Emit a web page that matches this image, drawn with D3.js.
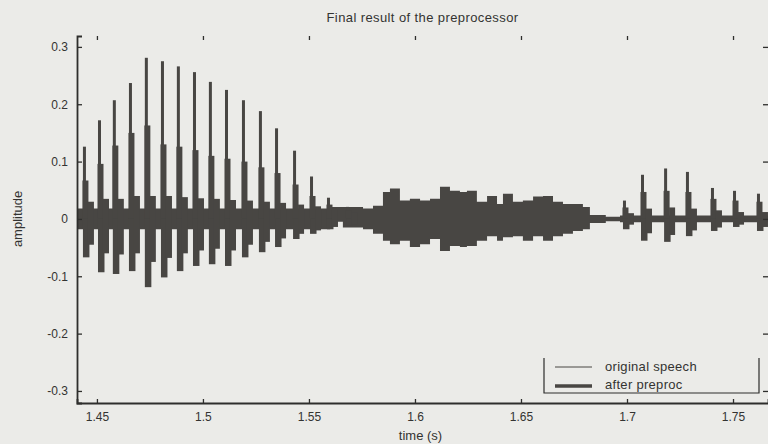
<!DOCTYPE html>
<html>
<head>
<meta charset="utf-8">
<script src="https://cdn.jsdelivr.net/npm/d3@7"></script>
<style>
  body { margin: 0; background: #ebebe8; }
  svg { display: block; font-family: "Liberation Sans", Arial, sans-serif; }
</style>
</head>
<body>
<div id="chart"></div>
<script>
// --- Data ---
const xTicks = [1.45, 1.5, 1.55, 1.6, 1.65, 1.7, 1.75];
const yTicks = [0.3, 0.2, 0.1, 0, -0.1, -0.2, -0.3];

// glottal pulses (time of spike, spike top, secondary block top, negative bottom)
const pulseTime = [1.4434, 1.4505, 1.4575, 1.4651, 1.4726, 1.4802, 1.4877, 1.4953, 1.5028, 1.5104, 1.5184, 1.5264,
  1.5340, 1.5425, 1.5505, 1.5585, 1.5675, 1.6981, 1.7066, 1.7175, 1.7278, 1.7396, 1.7500, 1.7613];
const pulseMax = [0.126, 0.172, 0.207, 0.237, 0.281, 0.275, 0.266, 0.256, 0.239, 0.225, 0.207, 0.188,
  0.158, 0.119, 0.074, 0.037, 0.021, 0.032, 0.077, 0.088, 0.082, 0.054, 0.049, 0.044];
const pulseMid = [0.067, 0.096, 0.128, 0.15, 0.163, 0.13, 0.126, 0.12, 0.11, 0.105, 0.1, 0.09,
  0.08, 0.06, 0.04, 0.025, 0.015, 0.02, 0.047, 0.049, 0.047, 0.035, 0.032, 0.030];
const pulseMin = [-0.067, -0.093, -0.096, -0.091, -0.119, -0.102, -0.091, -0.082, -0.079, -0.082, -0.067, -0.058,
  -0.049, -0.035, -0.026, -0.018, -0.012, -0.018, -0.038, -0.040, -0.030, -0.021, -0.014, -0.021];
// smaller ringing after each pulse (top / bottom)
const ringMax = [0.030, 0.035, 0.035, 0.040, 0.040, 0.040, 0.038, 0.036, 0.035, 0.033, 0.032, 0.030,
  0.028, 0.025, 0.022, 0.018, 0.012, 0.010, 0.018, 0.020, 0.018, 0.015, 0.012, 0.012];
const ringMin = [-0.045, -0.060, -0.062, -0.060, -0.075, -0.068, -0.060, -0.055, -0.052, -0.055, -0.045, -0.040,
  -0.034, -0.026, -0.020, -0.014, -0.010, -0.010, -0.025, -0.028, -0.020, -0.015, -0.010, -0.014];

// background envelope of the signal (upper / lower)
const envTime = [1.4406, 1.5550, 1.5600, 1.5660, 1.5755, 1.5802, 1.5849, 1.5882, 1.5929, 1.5976, 1.6024, 1.6071,
  1.6118, 1.6165, 1.6212, 1.6245, 1.6292, 1.6340, 1.6387, 1.6415, 1.6462, 1.6509, 1.6557, 1.6604,
  1.6651, 1.6698, 1.6745, 1.6792, 1.6825, 1.6900, 1.6967, 1.7665];
const envHigh = [0.018, 0.018, 0.021, 0.021, 0.018, 0.023, 0.047, 0.053, 0.032, 0.035, 0.032, 0.035,
  0.056, 0.049, 0.047, 0.049, 0.030, 0.040, 0.026, 0.044, 0.030, 0.032, 0.039, 0.040,
  0.030, 0.026, 0.026, 0.021, 0.007, 0.004, 0.006, 0.006];
const envLow = [-0.018, -0.018, -0.005, -0.015, -0.018, -0.026, -0.038, -0.044, -0.038, -0.049, -0.044, -0.035,
  -0.056, -0.047, -0.049, -0.047, -0.038, -0.030, -0.038, -0.032, -0.030, -0.038, -0.030, -0.038,
  -0.030, -0.026, -0.021, -0.018, -0.007, -0.004, -0.006, -0.006];

const legendLabels = ["original speech", "after preproc"];

// --- Layout ---
const width = 768, height = 444;
const margin = { left: 77, right: 0, top: 36, bottom: 41 };
const ink = "#2e2e2c";
const wave = "#484643";

const svg = d3.select("#chart").append("svg")
  .attr("width", width).attr("height", height)
  .style("background", "#ebebe8");

const x = d3.scaleLinear().domain([1.4406, 1.7665]).range([margin.left, width - margin.right]);
const y = d3.scaleLinear().domain([-0.321, 0.319]).range([height - margin.bottom, margin.top]);

// tick labels with a plain hyphen, like the original
const fmt = d => d3.format("~g")(d).replace("−", "-");

// --- Waveform: background envelope ---
const env = envTime.map((t, i) => ({ t, hi: envHigh[i], lo: envLow[i] }));
svg.append("path")
  .datum(env)
  .attr("fill", wave)
  .attr("d", d3.area().curve(d3.curveStepAfter)
    .x(d => x(d.t)).y0(d => y(d.lo)).y1(d => y(d.hi)));

// --- Waveform: pulses ---
const pulses = pulseTime.map((t, i) => ({
  t, max: pulseMax[i], mid: pulseMid[i], min: pulseMin[i], rMax: ringMax[i], rMin: ringMin[i]
}));
const pg = svg.append("g").attr("fill", wave);
function bar(cls, dx, w, top, bottom) {
  pg.selectAll("rect." + cls).data(pulses).join("rect")
    .attr("class", cls)
    .attr("x", d => x(d.t) + dx).attr("width", w)
    .attr("y", d => y(top(d))).attr("height", d => y(bottom(d)) - y(top(d)));
}
bar("spike", 0, 3, d => d.max, d => 0);          // thin spike
bar("mid", -0.5, 6, d => d.mid, d => 0);          // wider block after spike
bar("neg", 0, 6.5, d => 0, d => d.min);           // negative excursion
bar("ring", 5, 6, d => d.rMax, d => d.rMin);      // ringing tail

// --- Axes ---
const xAxis = d3.axisBottom(x).tickValues(xTicks).tickSize(-4).tickPadding(9).tickFormat(fmt);
svg.append("g").attr("transform", `translate(0,${height - margin.bottom})`).call(xAxis);

const yAxis = d3.axisLeft(y).tickValues(yTicks).tickSize(-5).tickPadding(9).tickFormat(fmt);
svg.append("g").attr("transform", `translate(${margin.left},0)`).call(yAxis);

// top and right tick marks only (axis lines faded out in the scan)
svg.append("g").attr("transform", `translate(0,${margin.top})`)
  .call(d3.axisTop(x).tickValues(xTicks).tickSize(-4).tickFormat(""))
  .select(".domain").remove();
svg.append("g").attr("transform", `translate(${width - margin.right},0)`)
  .call(d3.axisRight(y).tickValues(yTicks).tickSize(-5).tickFormat(""))
  .select(".domain").remove();

svg.selectAll(".tick line").attr("stroke", ink).attr("stroke-width", 1.3);
svg.selectAll(".domain").attr("stroke", ink).attr("stroke-width", 1.8);
svg.selectAll(".tick text").attr("fill", "#333331").style("font-size", "12px");

// --- Titles ---
svg.append("text")
  .attr("x", (margin.left + width) / 2).attr("y", 22)
  .attr("text-anchor", "middle").attr("fill", "#333331").style("font-size", "13px")
  .style("letter-spacing", "0.4px")
  .text("Final result of the preprocessor");

svg.append("text")
  .attr("x", (margin.left + width) / 2 - 2).attr("y", 440)
  .attr("text-anchor", "middle").attr("fill", "#333331").style("font-size", "13px")
  .text("time (s)");

svg.append("text")
  .attr("transform", `translate(22,${y(0)}) rotate(-90)`)
  .attr("text-anchor", "middle").attr("fill", "#333331").style("font-size", "13px")
  .text("amplitude");

// --- Legend ---
const lg = svg.append("g").attr("transform", "translate(544,358)");
lg.append("path")
  .attr("d", "M0,0V35H215V0")
  .attr("fill", "none").attr("stroke", ink).attr("stroke-width", 1.2);
lg.selectAll("line").data(legendLabels).join("line")
  .attr("x1", 11).attr("x2", 48)
  .attr("y1", (d, i) => 9 + i * 19).attr("y2", (d, i) => 9 + i * 19)
  .attr("stroke", wave).attr("stroke-width", (d, i) => i === 0 ? 1 : 3.5);
lg.selectAll("text").data(legendLabels).join("text")
  .attr("x", 61).attr("y", (d, i) => 13 + i * 18)
  .attr("fill", "#333331").style("font-size", "13px").style("letter-spacing", "0.3px")
  .text(d => d);
</script>
</body>
</html>
